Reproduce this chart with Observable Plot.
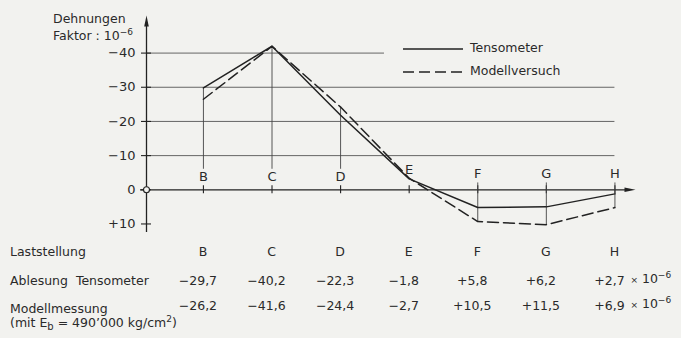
<!DOCTYPE html>
<html>
<head>
<meta charset="utf-8">
<script src="https://cdn.jsdelivr.net/npm/d3@7"></script>
<script src="https://cdn.jsdelivr.net/npm/@observablehq/plot@0.6"></script>
<style>
  html, body { margin: 0; padding: 0; background: #f2f2ef; }
  #wrap { position: relative; width: 681px; height: 338px; font-family: "DejaVu Sans", sans-serif; color: #2a2a2a; overflow: hidden; }
  .t { position: absolute; font-size: 12.5px; line-height: 14px; white-space: nowrap; }
  .c { transform: translateX(-50%); }
  sup { font-size: 9px; vertical-align: 5px; line-height: 0; }
  sub { font-size: 10px; vertical-align: -3px; line-height: 0; }
</style>
</head>
<body>
<div id="wrap"></div>
<script>
// ---- data ----
const categories = ["B", "C", "D", "E", "F", "G", "H"];
// values as drawn in the diagram
const tensometerDrawn = [-29.8, -42.0, -21.8, -3.2, 5.2, 5.0, 1.2];
const modellDrawn     = [-26.5, -42.0, -24.2, -3.4, 9.3, 10.2, 5.2];
// values as printed in the table
const tensometerTable = [-29.7, -40.2, -22.3, -1.8, 5.8, 6.2, 2.7];
const modellTable     = [-26.2, -41.6, -24.4, -2.7, 10.5, 11.5, 6.9];
const yTicks = [-40, -30, -20, -10, 0, 10];
const gridValues = [-40, -30, -20, -10];
const seriesNames = ["Tensometer", "Modellversuch"];

// ---- layout helpers ----
const xAxisPos = 0.17, xEnd = 7.3, legendGap = 3.64;
const idx = categories.map((c, i) => i + 1);
const solid = categories.map((c, i) => ({x: i + 1, y: tensometerDrawn[i], c}));
const dashed = categories.map((c, i) => ({x: i + 1, y: modellDrawn[i], c}));
const ink = "#222";

// drop lines derived from the data
const drops = [];
categories.forEach((c, i) => {
  const top = Math.min(tensometerDrawn[i], modellDrawn[i]);
  const bot = Math.max(tensometerDrawn[i], modellDrawn[i]);
  if (top < -6) drops.push({x: i + 1, y1: top, y2: -6});
  if (bot > 2) drops.push({x: i + 1, y1: -2, y2: bot});
});

const arrowSymbol = {
  draw(ctx, size) {
    const r = Math.sqrt(size / Math.PI);
    ctx.moveTo(0, 0);
    ctx.lineTo(r * 0.42, r * 2);
    ctx.lineTo(-r * 0.42, r * 2);
    ctx.closePath();
  }
};

const fmtTick = v => v === 0 ? "0" : (v > 0 ? "+" : "\u2212") + Math.abs(v);
const fmtVal = v => (v > 0 ? "+" : "\u2212") + Math.abs(v).toFixed(1).replace(".", ",");

const chart = Plot.plot({
  width: 681,
  height: 240,
  marginLeft: 146,
  marginRight: 46,
  marginTop: 15,
  marginBottom: 8,
  x: {type: "linear", domain: [xAxisPos, xEnd], axis: null},
  y: {domain: [-51, 12.5], reverse: true, axis: null},
  style: {background: "transparent", fontFamily: "DejaVu Sans, sans-serif", fontSize: "12.5px", color: "#2a2a2a"},
  marks: [
    // grid lines
    Plot.ruleY(gridValues, {y: d => d, x1: xAxisPos, x2: d => d === -40 ? legendGap : 7, stroke: "#555", strokeWidth: 0.9}),
    // y axis
    Plot.ruleX([xAxisPos], {y1: 12.5, y2: -49, stroke: ink, strokeWidth: 1.3}),
    Plot.dot([xAxisPos], {x: d => d, y: -51, symbol: arrowSymbol, r: 5.5, fill: ink, stroke: null}),
    // x axis
    Plot.ruleY([0], {x1: xAxisPos, x2: xEnd - 0.1, stroke: ink, strokeWidth: 1.3, insetLeft: -6}),
    Plot.dot([xEnd], {x: d => d, y: 0, symbol: arrowSymbol, r: 5.5, fill: ink, stroke: null, rotate: 90}),
    // y ticks and labels
    Plot.ruleY(yTicks, {y: d => d, x1: xAxisPos, x2: xAxisPos, insetLeft: -5, insetRight: -5, stroke: ink, strokeWidth: 1.1}),
    Plot.text(yTicks, {x: xAxisPos, y: d => d, text: fmtTick, dx: -11, textAnchor: "end", fontSize: 13}),
    // x ticks
    Plot.ruleX(idx, {x: d => d, y1: 0, y2: 0, insetTop: -4, insetBottom: -4, stroke: ink, strokeWidth: 1.1}),
    // drop lines
    Plot.ruleX(drops, {x: "x", y1: "y1", y2: "y2", stroke: "#444", strokeWidth: 0.9}),
    // origin circle
    Plot.dot([0], {x: xAxisPos, y: d => d, r: 3, fill: "#f2f2ef", stroke: ink, strokeWidth: 1.1}),
    // series
    Plot.line(dashed, {x: "x", y: "y", stroke: ink, strokeWidth: 1.5, strokeDasharray: "11,5"}),
    Plot.line(solid, {x: "x", y: "y", stroke: ink, strokeWidth: 1.5}),
    // category labels
    Plot.text(categories.slice(0, 3), {x: (d, i) => i + 1, y: 0, text: d => d, dy: -13, fontSize: 13}),
    Plot.text(["E"], {x: 4, y: 0, text: d => d, dy: -20, fontSize: 13}),
    Plot.text(categories.slice(4), {x: (d, i) => i + 5, y: 0, text: d => d, dy: -16, fontSize: 13})
  ]
});

const wrap = document.getElementById("wrap");
chart.style.position = "absolute";
chart.style.left = "0px";
chart.style.top = "0px";
wrap.appendChild(chart);

const xs = chart.scale("x");
function addText(html, left, centerY, cls) {
  const el = document.createElement("div");
  el.className = "t" + (cls ? " " + cls : "");
  el.innerHTML = html;
  el.style.left = left + "px";
  el.style.top = (centerY - 7) + "px";
  wrap.appendChild(el);
  return el;
}

// axis title
addText("Dehnungen", 53, 19);
addText("Faktor : 10<sup>\u22126</sup>", 53, 36);

// legend
const legendY = [49, 71.5];
seriesNames.forEach((name, i) => {
  const svg = document.createElementNS("http://www.w3.org/2000/svg", "svg");
  svg.setAttribute("width", 62); svg.setAttribute("height", 6);
  svg.style.position = "absolute"; svg.style.left = "403px"; svg.style.top = (legendY[i] - 3) + "px";
  const ln = document.createElementNS("http://www.w3.org/2000/svg", "line");
  ln.setAttribute("x1", 0); ln.setAttribute("x2", 60); ln.setAttribute("y1", 3); ln.setAttribute("y2", 3);
  ln.setAttribute("stroke", ink); ln.setAttribute("stroke-width", 1.4);
  if (i === 1) ln.setAttribute("stroke-dasharray", "11,5");
  svg.appendChild(ln);
  wrap.appendChild(svg);
  addText(name, 470, legendY[i] - 1);
});

// table
addText("Laststellung", 10, 252);
addText("Ablesung&nbsp; Tensometer", 10, 281);
addText("Modellmessung", 10, 309);
addText("(mit E<sub>b</sub> = 490\u2019000 kg/cm<sup>2</sup>)", 10, 323);
categories.forEach((c, i) => {
  const cx = xs.apply(i + 1);
  addText(c, cx, 252, "c");
  addText(fmtVal(tensometerTable[i]), cx - 5, 281, "c");
  addText(fmtVal(modellTable[i]), cx - 5, 306, "c");
});
const hx = xs.apply(7);
addText("<span style='font-size:9px'>\u00d7</span> 10<sup>\u22126</sup>", hx + 16, 279);
addText("<span style='font-size:9px'>\u00d7</span> 10<sup>\u22126</sup>", hx + 16, 304);
</script>
</body>
</html>
